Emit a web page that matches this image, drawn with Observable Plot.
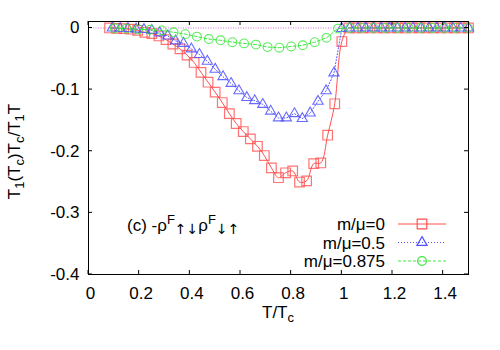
<!DOCTYPE html>
<html><head><meta charset="utf-8">
<script src="https://cdn.jsdelivr.net/npm/d3@7"></script>
<script src="https://cdn.jsdelivr.net/npm/@observablehq/plot@0.6"></script>
<style>body{margin:0;background:#fff}</style>
</head><body><div id="chart"></div>
<script>
// m/mu = 0
const redT = [0.083,0.111,0.139,0.167,0.194,0.222,0.250,0.278,0.306,0.333,0.361,0.389,0.417,0.444,0.472,0.500,0.528,0.556,0.583,0.611,0.639,0.667,0.694,0.722,0.750,0.778,0.806,0.833,0.861,0.889,0.917,0.944,0.972,1.000,1.028,1.056,1.083,1.111,1.139,1.167,1.194,1.222,1.250,1.278,1.306,1.333,1.361,1.389,1.417,1.444,1.472,1.500];
const redV = [0,-0.0005,-0.001,-0.002,-0.004,-0.007,-0.009,-0.013,-0.019,-0.026,-0.034,-0.044,-0.056,-0.072,-0.088,-0.104,-0.121,-0.139,-0.155,-0.168,-0.180,-0.192,-0.207,-0.227,-0.243,-0.235,-0.232,-0.250,-0.248,-0.220,-0.219,-0.174,-0.123,-0.022,0,0,0,0,0,0,0,0,0,0,0,0,0,0,0,0,0,0];
// m/mu = 0.5
const blueT = [0.094,0.125,0.156,0.188,0.219,0.250,0.281,0.313,0.344,0.375,0.406,0.438,0.469,0.500,0.531,0.563,0.594,0.625,0.656,0.688,0.719,0.750,0.781,0.813,0.844,0.875,0.906,0.938,0.969,1.000,1.031,1.063,1.094,1.125,1.156,1.188,1.219,1.250,1.281,1.313,1.344,1.375,1.406,1.438,1.469,1.500];
const blueV = [0,-0.001,-0.001,-0.002,-0.0025,-0.004,-0.008,-0.013,-0.021,-0.025,-0.034,-0.043,-0.054,-0.067,-0.079,-0.090,-0.102,-0.113,-0.118,-0.124,-0.135,-0.146,-0.146,-0.139,-0.147,-0.138,-0.119,-0.102,-0.073,-0.001,0,0,0,0,0,0,0,0,0,0,0,0,0,0,0,0];
// m/mu = 0.875
const greenT = [0.103,0.150,0.196,0.243,0.289,0.336,0.382,0.428,0.475,0.521,0.568,0.614,0.661,0.707,0.753,0.800,0.846,0.893,0.939,0.985,1.032,1.078,1.125,1.171,1.218,1.264,1.311,1.357,1.404,1.450,1.497];
const greenV = [-0.0005,-0.001,-0.002,-0.003,-0.004,-0.007,-0.010,-0.014,-0.018,-0.020,-0.023,-0.025,-0.027,-0.031,-0.032,-0.030,-0.028,-0.023,-0.016,-0.001,0,0,0,0,0,0,0,0,0,0,0];

const xTicks = [0,0.2,0.4,0.6,0.8,1,1.2,1.4];
const yTicks = [0,-0.1,-0.2,-0.3,-0.4];
const seriesNames = ["m/\u03bc=0","m/\u03bc=0.5","m/\u03bc=0.875"];

const RED = "#ff5050", BLUE = "#5050ff", GREEN = "#3ee83e";
const FONT = "'Liberation Sans', Arial, Helvetica, sans-serif";
const FS = 17;

const toRows = (T, V) => T.map((t, i) => ({t, v: V[i]}));
const red = toRows(redT, redV), blue = toRows(blueT, blueV), green = toRows(greenT, greenV);
const fmt = d => String(+d.toFixed(1)).replace("\u2212", "-");

const plot = Plot.plot({
  width: 500, height: 350,
  marginLeft: 88, marginRight: 32, marginTop: 21, marginBottom: 76,
  style: {fontFamily: FONT, fontSize: FS + "px", color: "black", background: "white"},
  x: {domain: [0, 1.5]},
  y: {domain: [-0.4, 0.0105]},
  marks: [
    Plot.ruleY([0], {stroke: "#e070e0", strokeWidth: 1, strokeDasharray: "1,1.5"}),
    Plot.axisX({ticks: xTicks, tickSize: 0, tickPadding: 12, dx: 2, tickFormat: fmt, label: null, fontSize: FS}),
    Plot.axisY({ticks: yTicks, tickSize: 0, tickPadding: 9, tickFormat: fmt, label: null, fontSize: FS}),
    Plot.line(red, {x: "t", y: "v", stroke: RED, strokeWidth: 1, curve: "catmull-rom"}),
    Plot.dot(red, {x: "t", y: "v", symbol: "square", r: 5.4, stroke: RED, strokeOpacity: 0.8, strokeWidth: 1.2, fill: "none"}),
    Plot.line(blue, {x: "t", y: "v", stroke: BLUE, strokeWidth: 1, strokeDasharray: "1,2"}),
    Plot.dot(blue, {x: "t", y: "v", symbol: "triangle", r: 3.8, stroke: BLUE, strokeOpacity: 0.85, strokeWidth: 1.1, fill: "none"}),
    Plot.line(green, {x: "t", y: "v", stroke: GREEN, strokeWidth: 1, strokeDasharray: "3,2"}),
    Plot.dot(green, {x: "t", y: "v", symbol: "circle", r: 4.4, stroke: GREEN, strokeOpacity: 0.85, strokeWidth: 1.1, fill: "none"}),
    Plot.frame({stroke: "black", strokeWidth: 1})
  ]
});

const svg = d3.select(plot);
const sx = plot.scale("x"), sy = plot.scale("y");
const [x0, x1] = sx.range, [y0, y1] = sy.range; // y0 bottom, y1 top
const TL = 4;
const tg = svg.append("g").attr("stroke", "black").attr("stroke-width", 1);
xTicks.forEach(v => {
  const px = sx.apply(v);
  tg.append("line").attr("x1", px).attr("x2", px).attr("y1", y0).attr("y2", y0 - TL);
  tg.append("line").attr("x1", px).attr("x2", px).attr("y1", y1).attr("y2", y1 + TL);
});
yTicks.forEach(v => {
  const py = sy.apply(v);
  tg.append("line").attr("x1", x0).attr("x2", x0 + TL).attr("y1", py).attr("y2", py);
  tg.append("line").attr("x1", x1).attr("x2", x1 - TL).attr("y1", py).attr("y2", py);
});

const txt = svg.append("g").attr("font-family", FONT).attr("font-size", FS).attr("fill", "black").attr("text-anchor", "start");

// x title
const xt = txt.append("text").attr("x", (x0 + x1) / 2).attr("y", 318).attr("text-anchor", "middle");
xt.append("tspan").text("T/T");
xt.append("tspan").attr("font-size", 13).attr("dy", 4).text("c");

// y title
const yt = txt.append("text").attr("transform", `translate(20,${(y0 + y1) / 2 + 4}) rotate(-90)`).attr("text-anchor", "middle");
const ySub = (s, sub) => { yt.append("tspan").attr("dy", sub ? 4 : -4).attr("font-size", sub ? 13 : FS).text(s); };
yt.append("tspan").text("T");
ySub("1", true); ySub("(T", false); ySub("c", true); ySub(")T", false); ySub("c", true); ySub("/T", false); ySub("1", true); ySub("T", false);

// annotation
const ARROWFONT = "'DejaVu Sans', sans-serif";
const an = txt.append("text").attr("x", 127).attr("y", 231).attr("text-anchor", "start");
an.append("tspan").text("(c) -\u03c1");
an.append("tspan").attr("dy", -7).attr("font-size", 13).text("F");
an.append("tspan").attr("dy", 10).attr("font-size", 14).attr("font-family", ARROWFONT).text("\u2191\u2193");
an.append("tspan").attr("dy", -3).text("\u03c1");
an.append("tspan").attr("dy", -7).attr("font-size", 13).text("F");
an.append("tspan").attr("dy", 10).attr("font-size", 14).attr("font-family", ARROWFONT).text("\u2193\u2191");

// legend
const legendStyles = [
  {c: RED, dash: null, sym: d3.symbolSquare, r: 5.4},
  {c: BLUE, dash: "1,2", sym: d3.symbolTriangle, r: 3.8},
  {c: GREEN, dash: "3,2", sym: d3.symbolCircle, r: 4.4}
];
const rowY = [224, 242.5, 261];
seriesNames.forEach((name, i) => {
  const cy = rowY[i], st = legendStyles[i];
  txt.append("text").attr("x", 385).attr("y", cy + 6).attr("text-anchor", "end").text(name);
  const ln = svg.append("line").attr("x1", 398).attr("x2", 446).attr("y1", cy).attr("y2", cy)
    .attr("stroke", st.c).attr("stroke-width", 1);
  if (st.dash) ln.attr("stroke-dasharray", st.dash);
  svg.append("path").attr("transform", `translate(422,${cy})`)
    .attr("d", d3.symbol(st.sym, Math.PI * st.r * st.r)())
    .attr("fill", "none").attr("stroke", st.c).attr("stroke-width", 1.2);
});

document.getElementById("chart").appendChild(plot);
</script>
</body></html>
